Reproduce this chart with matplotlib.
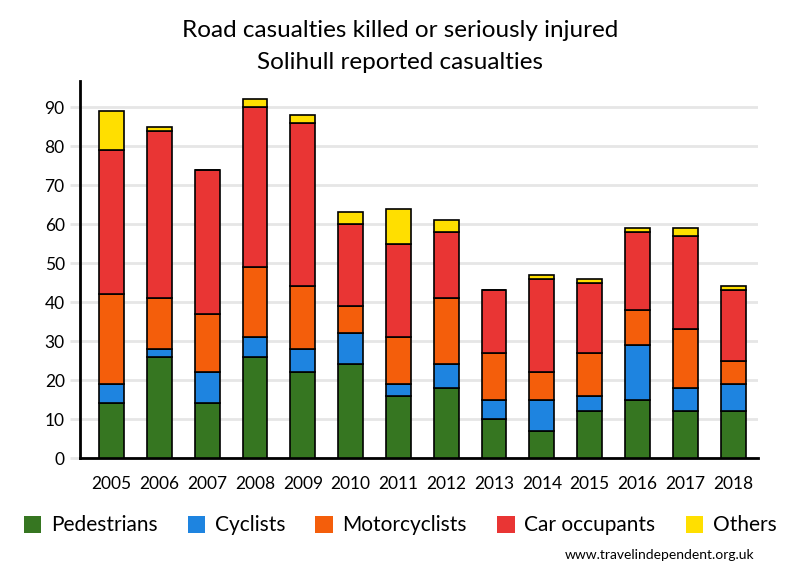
import matplotlib
matplotlib.use("Agg")
import matplotlib.pyplot as plt
import numpy as np

years = ["2005", "2006", "2007", "2008", "2009", "2010", "2011",
         "2012", "2013", "2014", "2015", "2016", "2017", "2018"]
pedestrians = [14, 26, 14, 26, 22, 24, 16, 18, 10, 7, 12, 15, 12, 12]
cyclists = [5, 2, 8, 5, 6, 8, 3, 6, 5, 8, 4, 14, 6, 7]
motorcyclists = [23, 13, 15, 18, 16, 7, 12, 17, 12, 7, 11, 9, 15, 6]
car_occupants = [37, 43, 37, 41, 42, 21, 24, 17, 16, 24, 18, 20, 24, 18]
others = [10, 1, 0, 2, 2, 3, 9, 3, 0, 1, 1, 1, 2, 1]

series = [
    ("Pedestrians", pedestrians, "#367621"),
    ("Cyclists", cyclists, "#1e84e0"),
    ("Motorcyclists", motorcyclists, "#f45e0b"),
    ("Car occupants", car_occupants, "#e93534"),
    ("Others", others, "#ffdf00"),
]

plt.rcParams["font.family"] = ["Lato", "DejaVu Sans"]

fig = plt.figure(figsize=(8, 5.8), dpi=100)
ax = fig.add_axes([0.1, 0.2103, 0.8475, 0.65])

x = np.arange(len(years))
bottom = np.zeros(len(years))
for name, vals, col in series:
    vals = np.array(vals, dtype=float)
    ax.bar(x, vals, width=0.52, bottom=bottom, color=col, edgecolor="black",
           linewidth=1.2, label=name, zorder=3)
    bottom += vals

ax.set_xlim(-0.66, 13.52)
ax.set_ylim(0, 96.7)
ax.set_yticks(range(0, 100, 10))
ax.set_xticks(x)
ax.set_xticklabels(years)
ax.grid(axis="y", color="#e6e6e6", linewidth=2, zorder=0)
ax.tick_params(axis="y", length=7, width=2, color="#e6e6e6", labelsize=12.5, pad=4)
ax.tick_params(axis="x", length=0, labelsize=12.5, pad=13)
for s in ["top", "right"]:
    ax.spines[s].set_visible(False)
ax.spines["left"].set_linewidth(2)
ax.spines["bottom"].set_linewidth(2)

fig.text(0.5, 0.948, "Road casualties killed or seriously injured", ha="center",
         va="center", fontsize=17.5)
fig.text(0.5, 0.893, "Solihull reported casualties", ha="center",
         va="center", fontsize=17.5)

fig.legend(loc="center", bbox_to_anchor=(0.5, 0.094), ncol=5, frameon=False,
           fontsize=15, handlelength=0.85, handleheight=0.85, handletextpad=0.45,
           columnspacing=1.45)
for p in fig.legends[0].get_patches():
    p.set_edgecolor("none")

fig.text(0.943, 0.043, "www.travelindependent.org.uk", ha="right", va="center",
         fontsize=10)

fig.savefig("out.png", dpi=100)
